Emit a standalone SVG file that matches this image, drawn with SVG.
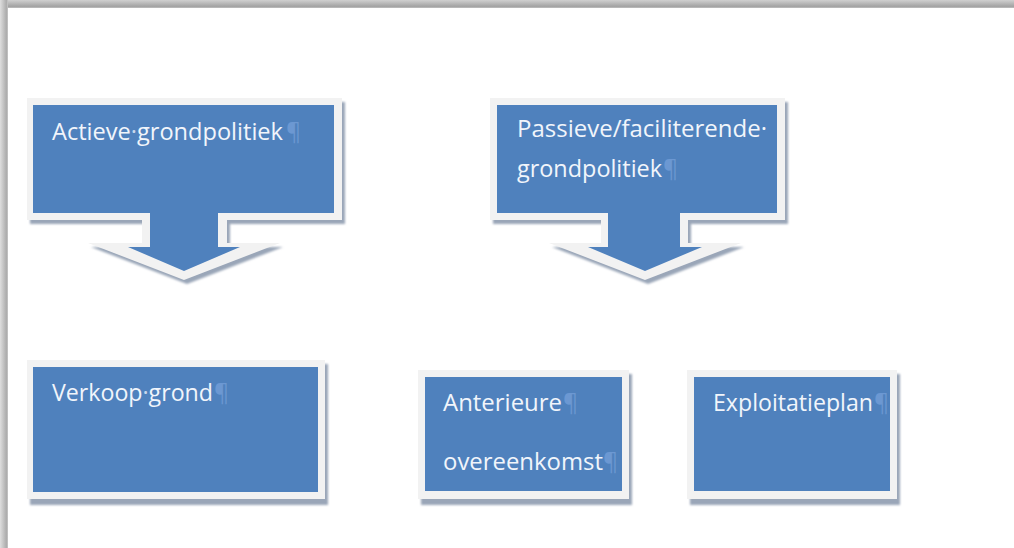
<svg xmlns="http://www.w3.org/2000/svg" width="1014" height="548" viewBox="0 0 1014 548">
<defs>
<linearGradient id="gTop" x1="0" y1="0" x2="0" y2="1"><stop offset="0" stop-color="#d0d0d0"/><stop offset="0.8" stop-color="#a3a3a3"/><stop offset="1" stop-color="#c0c0c0"/></linearGradient>
<linearGradient id="gLeft" x1="0" y1="0" x2="1" y2="0"><stop offset="0" stop-color="#dedede"/><stop offset="0.8" stop-color="#acacac"/><stop offset="1" stop-color="#c8c8c8"/></linearGradient>
<filter id="soft" x="-5%" y="-5%" width="110%" height="115%"><feGaussianBlur stdDeviation="1"/></filter>
<style>
.border{fill:#f2f2f2}
.shadow{fill:#9aa6b8;filter:url(#soft)}
.blue{fill:#4f81bd}
.lbl{font-family:"Open Sans","Liberation Sans",sans-serif;font-size:23px;fill:#f1f5fb}
.dot{fill:#c9d8ec}
.pil{font-family:"Open Sans","Liberation Sans",sans-serif;font-size:23px;fill:#6c98d2}
</style>
</defs>
<rect x="0" y="0" width="1014" height="548" fill="#ffffff"/>
<rect x="0" y="0" width="1014" height="8" fill="url(#gTop)"/>
<rect x="0" y="0" width="8" height="548" fill="url(#gLeft)"/>

<g id="connectors"></g>

<g id="node-actieve">
<path class="shadow" d="M30,102 H345 V224 H230 V247 H283 L187,284 L91,247 H145 V224 H30 Z"/>
<path class="border" d="M27,98 H342 V220 H227 V243 H280 L184,280 L88,243 H142 V220 H27 Z"/>
<path class="blue" d="M33,105 H334 V213 H218 V247 H240 L184,271 L128,247 H150 V213 H33 Z"/>
<text class="lbl" x="52" y="140" textLength="231" lengthAdjust="spacingAndGlyphs">Actieve<tspan class="dot">·</tspan>grondpolitiek</text>
<text class="pil" x="286" y="140">¶</text>
</g>

<g id="node-passieve">
<path class="shadow" d="M493,102 H788 V224 H691 V247 H744 L648,284 L552,247 H604 V224 H493 Z"/>
<path class="border" d="M490,98 H785 V220 H688 V243 H741 L645,280 L549,243 H601 V220 H490 Z"/>
<path class="blue" d="M497,105 H777 V213 H680 V247 H702 L645,271 L588,247 H608 V213 H497 Z"/>
<text class="lbl" x="517" y="137" textLength="250" lengthAdjust="spacingAndGlyphs">Passieve/faciliterende·</text>
<text class="lbl" x="517" y="177" textLength="145" lengthAdjust="spacingAndGlyphs">grondpolitiek</text>
<text class="pil" x="663" y="177">¶</text>
</g>

<g id="node-verkoop">
<rect class="shadow" x="30" y="364" width="298" height="141"/>
<rect class="border" x="27" y="360" width="298" height="139"/>
<rect class="blue" x="33" y="367" width="285" height="125"/>
<text class="lbl" x="52" y="401" textLength="161" lengthAdjust="spacingAndGlyphs">Verkoop<tspan class="dot">·</tspan>grond</text>
<text class="pil" x="214" y="401">¶</text>
</g>

<g id="node-anterieure">
<rect class="shadow" x="421" y="374" width="211" height="131"/>
<rect class="border" x="418" y="370" width="211" height="129"/>
<rect class="blue" x="425" y="377" width="197" height="114"/>
<text class="lbl" x="443" y="411" textLength="119" lengthAdjust="spacingAndGlyphs">Anterieure</text>
<text class="pil" x="563" y="411">¶</text>
<text class="lbl" x="443" y="470" textLength="160" lengthAdjust="spacingAndGlyphs">overeenkomst</text>
<text class="pil" x="603" y="470">¶</text>
</g>

<g id="node-exploitatieplan">
<rect class="shadow" x="690" y="374" width="210" height="131"/>
<rect class="border" x="687" y="370" width="210" height="129"/>
<rect class="blue" x="694" y="377" width="196" height="114"/>
<text class="lbl" x="713" y="411" textLength="160" lengthAdjust="spacingAndGlyphs">Exploitatieplan</text>
<text class="pil" x="874" y="411">¶</text>
</g>
</svg>
